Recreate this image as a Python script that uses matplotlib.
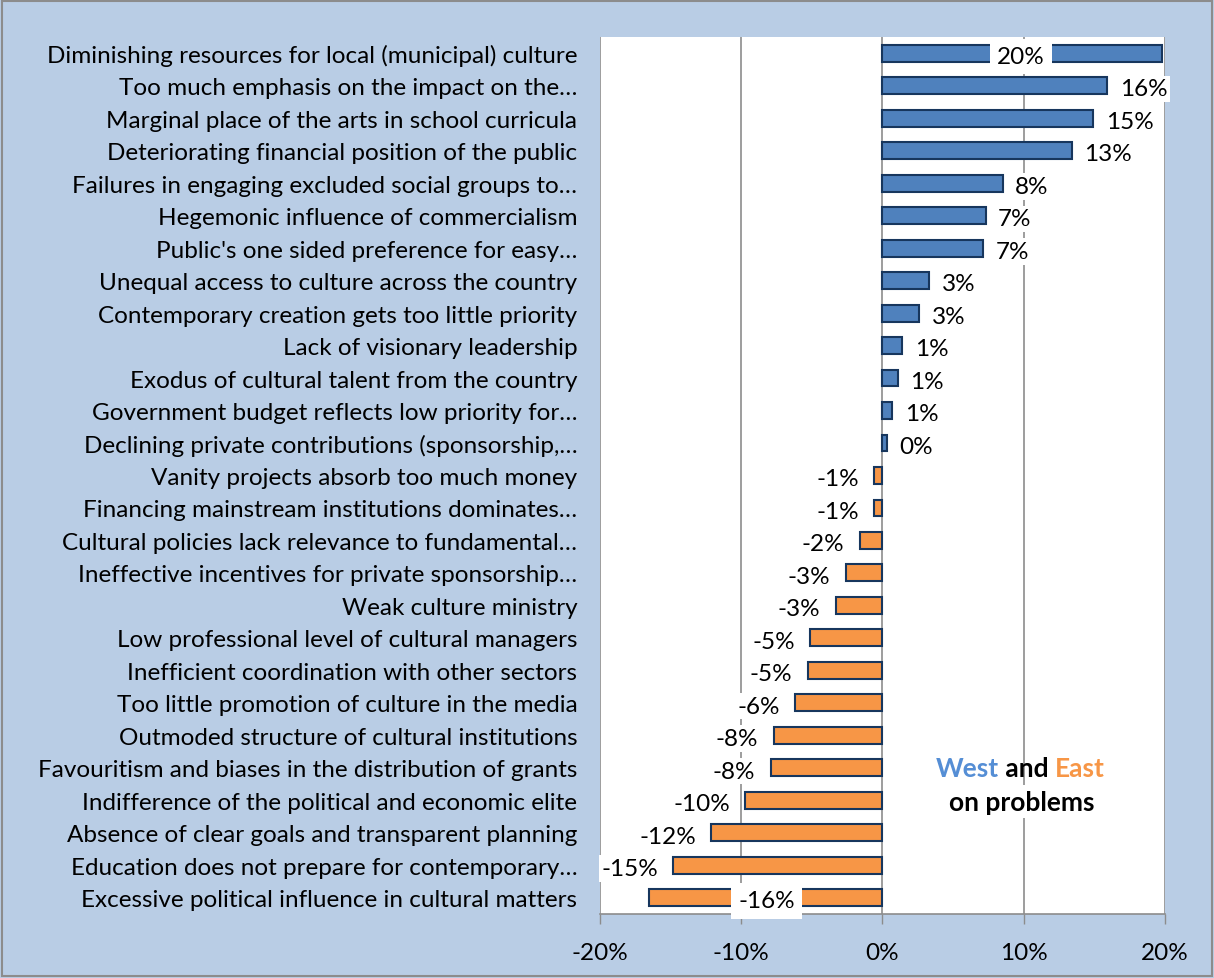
#!/usr/bin/env python3

"""
plot.py - West vs East on problems, diverging horizontal bars
"""

from matplotlib import pyplot as plt
from matplotlib.patches import Rectangle
from matplotlib.ticker import FuncFormatter

# Category labels (top to bottom) and the West-minus-East difference in %.
problems = [
  'Diminishing resources for local (municipal) culture',
  'Too much emphasis on the impact on the\u2026',
  'Marginal place of the arts in school curricula',
  'Deteriorating financial position of the public',
  'Failures in engaging excluded social groups to\u2026',
  'Hegemonic influence of commercialism',
  "Public's one sided preference for easy\u2026",
  'Unequal access to culture across the country',
  'Contemporary creation gets too little priority',
  'Lack of visionary leadership',
  'Exodus of cultural talent from the country',
  'Government budget reflects low priority for\u2026',
  'Declining private contributions (sponsorship,\u2026',
  'Vanity projects absorb too much money',
  'Financing mainstream institutions dominates\u2026',
  'Cultural policies lack relevance to fundamental\u2026',
  'Ineffective incentives for private sponsorship\u2026',
  'Weak culture ministry',
  'Low professional level of cultural managers',
  'Inefficient coordination with other sectors',
  'Too little promotion of culture in the media',
  'Outmoded structure of cultural institutions',
  'Favouritism and biases in the distribution of grants',
  'Indifference of the political and economic elite',
  'Absence of clear goals and transparent planning',
  'Education does not prepare for contemporary\u2026',
  'Excessive political influence in cultural matters',
]
difference = [
  19.8, 15.9, 14.9, 13.4, 8.5, 7.3, 7.1, 3.3, 2.6, 1.4, 1.1, 0.7, 0.3,
  -0.6, -0.6, -1.6, -2.6, -3.3, -5.1, -5.3, -6.2, -7.7, -7.9, -9.7,
  -12.1, -14.8, -16.5,
]
xticks = [-20, -10, 0, 10, 20]

WEST = '#4F81BD'
EAST = '#F79646'
EDGE = '#17365D'
BACKGROUND = '#B9CDE5'
SIZE = 17.5

plt.rcParams['font.family'] = ['Lato', 'DejaVu Sans']

fig = plt.figure(figsize=(12.14, 9.79), dpi=100, facecolor=BACKGROUND)
ax = fig.add_axes([0.494, 0.0654, 0.4658, 0.8958])
ax.set_facecolor('white')

positions = list(range(len(problems)))
colors = [WEST if v >= 0 else EAST for v in difference]
ax.barh(positions, difference, height=0.52, color=colors,
        edgecolor=EDGE, linewidth=1.5, zorder=3)

ax.set_xlim(-20, 20)
ax.set_ylim(len(problems) - 0.5, -0.5)
ax.set_xticks(xticks)
ax.xaxis.set_major_formatter(FuncFormatter(lambda v, _: '{:.0f}%'.format(v)))
ax.set_yticks(positions)
ax.set_yticklabels(problems)
ax.tick_params(axis='y', length=0, pad=16, labelsize=SIZE)
ax.tick_params(axis='x', length=7, width=1, color='#8C8C8C',
               direction='out', pad=13, labelsize=SIZE)
ax.grid(axis='x', color='#8C8C8C', linewidth=1.2, zorder=1)
for side in ('top', 'left', 'right'):
  ax.spines[side].set_visible(False)
ax.spines['bottom'].set_color('#8C8C8C')
ax.spines['bottom'].set_linewidth(1.2)

# Data labels; two were dragged inside the bars in the original.
moved = {0: 9.8, len(problems) - 1: -8.2}
box = dict(facecolor='white', edgecolor='none', pad=2)
for i, v in enumerate(difference):
  text = '{:.0f}%'.format(v)
  if i in moved:
    ax.text(moved[i], i + 0.1, text, ha='center', va='center',
            fontsize=SIZE, bbox=dict(facecolor='white', edgecolor='none', pad=5),
            zorder=4, clip_on=False)
  elif v >= 0:
    ax.annotate(text, (v, i + 0.1), xytext=(9, 0), textcoords='offset points',
                ha='left', va='center', fontsize=SIZE, bbox=box, zorder=4)
  else:
    ax.annotate(text, (v, i + 0.1), xytext=(-11, 0), textcoords='offset points',
                ha='right', va='center', fontsize=SIZE, bbox=box, zorder=4)

# Title box inside the plot.
west = ax.text(0.594, 0.166, 'West', transform=ax.transAxes, color='#558ED5',
               fontsize=19, fontweight='bold', ha='left', va='center', zorder=4)
mid = ax.annotate(' and ', xy=(1, 0), xycoords=west, color='black',
                  fontsize=19, fontweight='bold', ha='left', va='bottom', zorder=4)
ax.annotate('East', xy=(1, 0), xycoords=mid, color=EAST,
            fontsize=19, fontweight='bold', ha='left', va='bottom', zorder=4)
ax.text(0.747, 0.128, 'on problems', transform=ax.transAxes, color='black',
        fontsize=19, fontweight='bold', ha='center', va='center', zorder=4,
        bbox=dict(facecolor='white', edgecolor='none', pad=3))

# Outer frame of the chart.
fig.patches.append(Rectangle((0.002, 0.002), 0.996, 0.996, transform=fig.transFigure,
                             fill=False, edgecolor='#8C8C8C', linewidth=1.5))

fig.savefig('out.png', dpi=100, facecolor=BACKGROUND)
